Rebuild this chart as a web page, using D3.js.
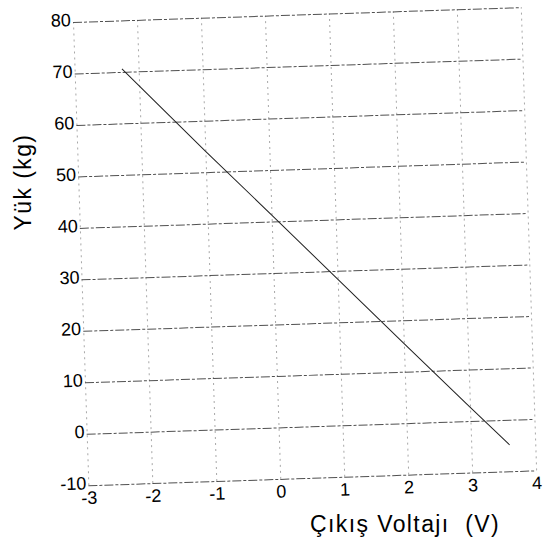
<!DOCTYPE html>
<html>
<head>
<meta charset="utf-8">
<script src="https://cdn.jsdelivr.net/npm/d3@7"></script>
<style>
  body { margin: 0; background: #fff; }
  text { font-family: "Liberation Sans", Arial, sans-serif; fill: #000; }
</style>
</head>
<body>
<script>
// values
var voltage = [-2.26, -1, 0, 1, 2, 3, 3.6];
var load = [70.6, 54.1, 41.3, 28.4, 15.5, 2.7, -4.9];
var xTicks = [-3, -2, -1, 0, 1, 2, 3, 4];
var yTicks = [-10, 0, 10, 20, 30, 40, 50, 60, 70, 80];

var svgWidth = 544;
var svgHeight = 544;
var width = 448;
var height = 463.5;

var svg = d3.select("body")
  .append("svg")
  .attr("width", svgWidth)
  .attr("height", svgHeight);

// the original is a slightly tilted scan
var chartGroup = svg.append("g")
  .attr("transform", "translate(73, 22) rotate(-1.9)");

var xScale = d3.scaleLinear().domain([-3, 4]).range([0, width]);
var yScale = d3.scaleLinear().domain([-10, 80]).range([height, 0]);

// vertical grid + x labels
var bottomAxis = d3.axisBottom(xScale)
  .tickValues(xTicks)
  .tickFormat(d3.format("d"))
  .tickSize(-height)
  .tickPadding(6);

var xAxis = chartGroup.append("g")
  .attr("transform", `translate(0, ${height})`)
  .call(bottomAxis);
xAxis.select(".domain").remove();
xAxis.selectAll("line")
  .attr("stroke", "#a8a8a8")
  .attr("stroke-dasharray", "2,4");
xAxis.selectAll("text")
  .style("font-size", "18px")
  .text(d => d < 0 ? "-" + Math.abs(d) : d);

// horizontal grid + y labels
var leftAxis = d3.axisLeft(yScale)
  .tickValues(yTicks)
  .tickFormat(d3.format("d"))
  .tickSize(-width)
  .tickPadding(2);

var yAxis = chartGroup.append("g")
  .call(leftAxis);
yAxis.select(".domain").remove();
yAxis.selectAll("line")
  .attr("stroke", "#505050")
  .attr("stroke-dasharray", "9,2,3,2");
yAxis.selectAll("text")
  .style("font-size", "18px")
  .attr("dy", "0.2em")
  .text(d => d < 0 ? "-" + Math.abs(d) : d);

// data line
var points = voltage.map((v, i) => [v, load[i]]);
var line = d3.line()
  .x(d => xScale(d[0]))
  .y(d => yScale(d[1]));

chartGroup.append("path")
  .datum(points)
  .attr("fill", "none")
  .attr("stroke", "#222")
  .attr("stroke-width", 1)
  .attr("d", line);

// axis titles
svg.append("text")
  .attr("transform", "translate(31, 182) rotate(-90)")
  .attr("text-anchor", "middle")
  .style("font-size", "23px")
  .style("letter-spacing", "1.4px")
  .text("Yük (kg)");

svg.append("text")
  .attr("x", 310)
  .attr("y", 532)
  .style("font-size", "23px")
  .style("letter-spacing", "1.4px")
  .style("white-space", "pre")
  .text("Çıkış Voltajı  (V)");
</script>
</body>
</html>
